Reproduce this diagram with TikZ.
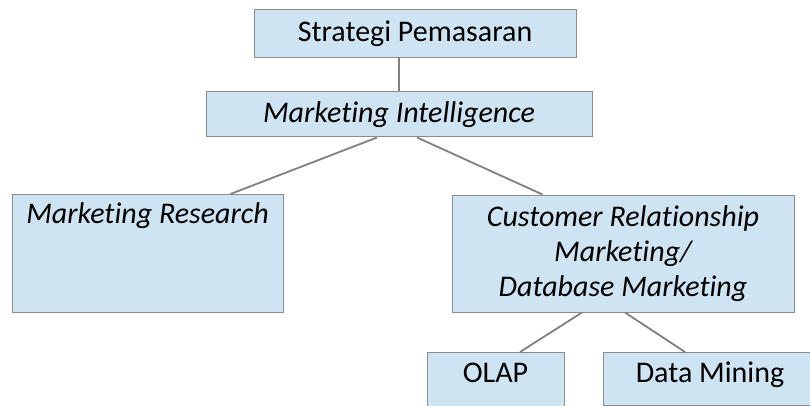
\documentclass[tikz,border=0pt]{standalone}
\usepackage{fontspec}
\setmainfont[Ligatures={NoCommon,NoRequired,NoContextual},RawFeature={-liga;-dlig}]{Carlito}
\definecolor{boxfill}{RGB}{207,228,243}
\definecolor{boxline}{RGB}{140,140,140}
\definecolor{linkline}{RGB}{128,128,128}
\begin{document}
\begin{tikzpicture}[x=1pt,y=-1pt,
			every node/.style={draw=boxline,fill=boxfill,line width=1pt,inner sep=0pt,
				font=\fontsize{30}{35}\selectfont},
			topbox/.style={inner ysep=9pt,text height=21pt},
			link/.style={draw=linkline,line width=1.8pt}]
\useasboundingbox (0,0) rectangle (810,406);
\node[minimum width=322pt,minimum height=48pt] (strategi) at (415,34) {Strategi Pemasaran};
\node[minimum width=386pt,minimum height=45pt,font=\fontsize{30}{35}\selectfont\itshape] (intel) at (399,114.5) {Marketing Intelligence};
\node[topbox,anchor=north,minimum width=271pt,text height=20pt,text depth=80pt,
	font=\fontsize{30}{35}\selectfont\itshape] (research) at (147.5,194) {Marketing Research};
\node[minimum width=342pt,minimum height=117pt,align=center,
	font=\fontsize{30}{35}\selectfont\itshape] (crm) at (623,253.5) {Customer Relationship\\ Marketing/\\ Database Marketing};
\node[topbox,anchor=north,minimum width=137pt,text depth=60pt] (olap) at (495.5,352) {OLAP};
\node[topbox,anchor=north,minimum width=214pt,text depth=14pt] (mining) at (710,352) {Data Mining};
% connectors
\draw[link,line width=2.8pt] (intel.north |- strategi.south) -- (intel.north);
\draw[link] ([xshift=-22]intel.south) -- ([xshift=-53]research.north east);
\draw[link] ([xshift=18]intel.south) -- ([xshift=91]crm.north west);
\draw[link] ([xshift=-41]crm.south) -- ([xshift=24.5]olap.north);
\draw[link] ([xshift=2]crm.south) -- ([xshift=-25]mining.north);
\end{tikzpicture}
\end{document}
